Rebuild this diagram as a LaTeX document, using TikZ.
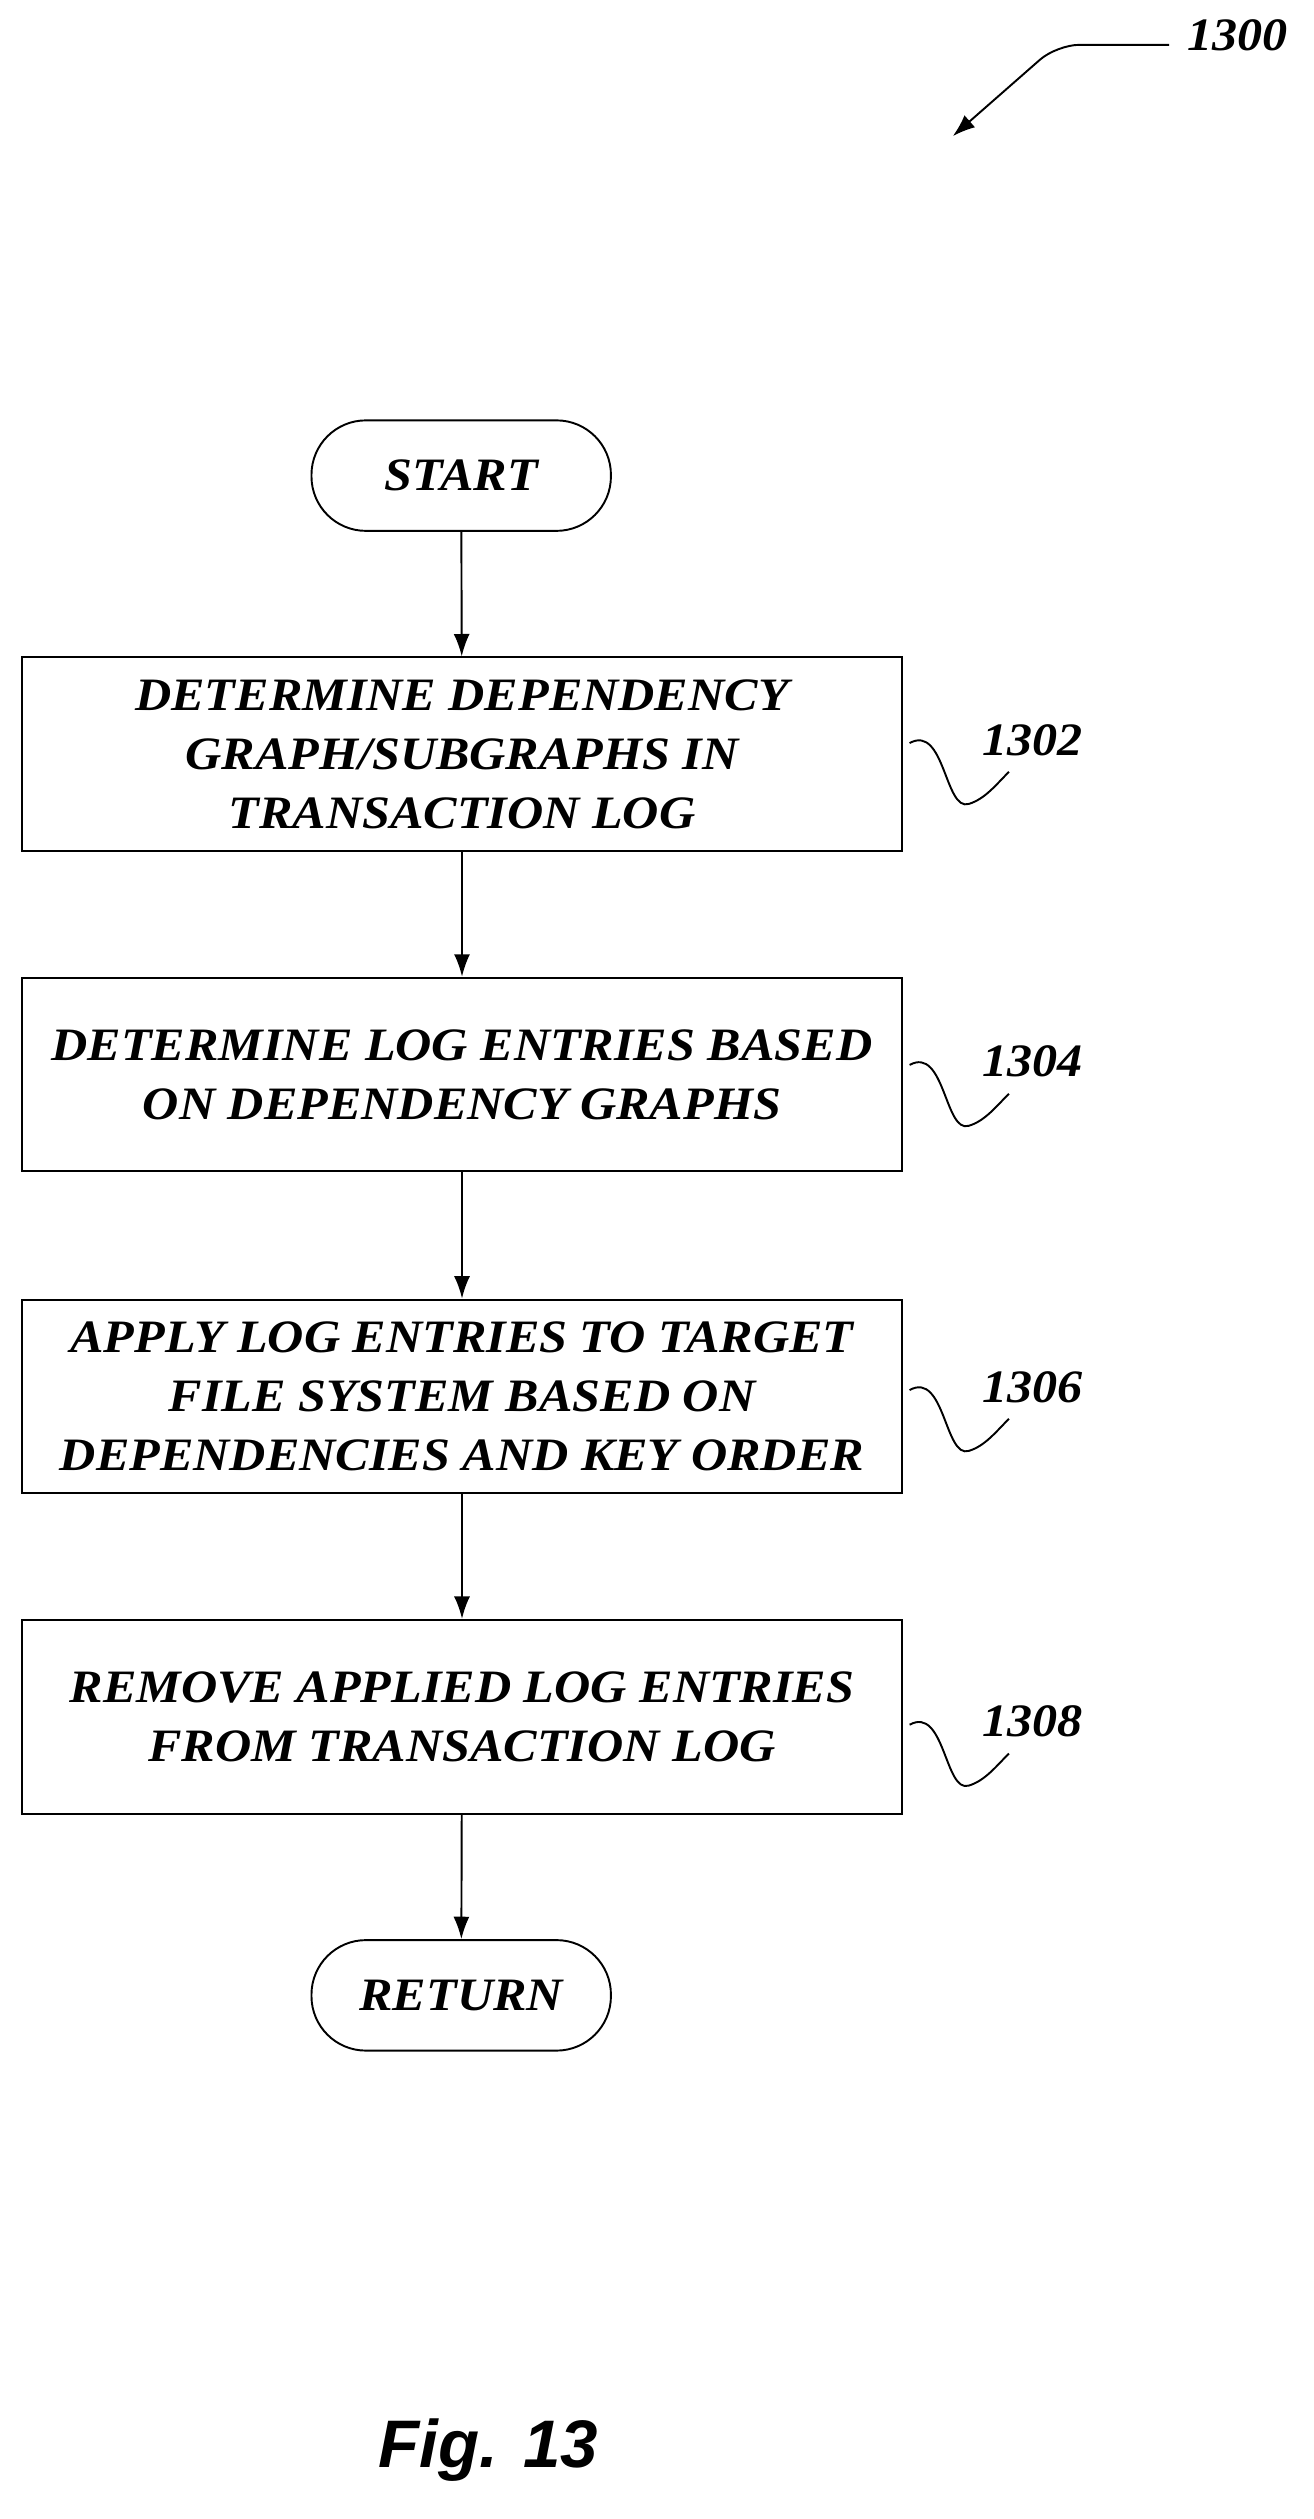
\documentclass[tikz,border=0pt]{standalone}
\usepackage{fontspec}
\usetikzlibrary{arrows.meta}
\setmainfont{Liberation Serif}[FakeStretch=1.08]
\setsansfont{Liberation Sans}
\begin{document}
\begin{tikzpicture}[x=1pt,y=-1pt,
  box/.style={draw,line width=1.2pt,minimum width=549pt,minimum height=121pt,align=center,font=\fontsize{29}{37}\selectfont\bfseries\itshape,inner sep=0pt},
  term/.style={draw,line width=1.2pt,rounded corners=34pt,minimum width=187pt,minimum height=69pt,font=\fontsize{29}{37}\selectfont\bfseries\itshape},
  lab/.style={font=\fontsize{29}{34}\selectfont\bfseries\itshape},
  arr/.style={-{Latex[length=14pt,width=10pt]},line width=1.2pt},
  sq/.style={line width=1.2pt}]
\useasboundingbox (0,0) rectangle (820,1573);
\node[term] (s) at (288,297) {START};
\node[box] (b1) at (288.5,471) {DETERMINE DEPENDENCY\\GRAPH/SUBGRAPHS IN\\TRANSACTION LOG};
\node[box] (b2) at (288.5,671) {DETERMINE LOG ENTRIES BASED\\ON DEPENDENCY GRAPHS};
\node[box] (b3) at (288.5,872) {APPLY LOG ENTRIES TO TARGET\\FILE SYSTEM BASED ON\\DEPENDENCIES AND KEY ORDER};
\node[box] (b4) at (288.5,1072) {REMOVE APPLIED LOG ENTRIES\\FROM TRANSACTION LOG};
\node[term] (r) at (288,1246) {RETURN};
\draw[arr] (s) -- (b1);
\draw[arr] (b1) -- (b2);
\draw[arr] (b2) -- (b3);
\draw[arr] (b3) -- (b4);
\draw[arr] (b4) -- (r);
\foreach \n/\y/\t in {l1/462/1302,l2/663/1304,l3/866/1306,l4/1075/1308}{
  \node[lab] (\n) at (645,\y) {\t};
  \draw[sq] (568,\y+2) .. controls (590,\y-10) and (590,\y+45) .. (605,\y+40) .. controls (615,\y+37) and (622,\y+28) .. (630,\y+20);
}
\node[lab] (t) at (773,22) {1300};
\coordinate (a1) at (730,28);
\draw[arr,rounded corners=14pt] (a1) -- (660,28) -- (595,85);
\node[font=\fontsize{42}{46}\selectfont\sffamily\bfseries\itshape] (fig) at (305,1530) {Fig. 13};
\end{tikzpicture}
\end{document}
